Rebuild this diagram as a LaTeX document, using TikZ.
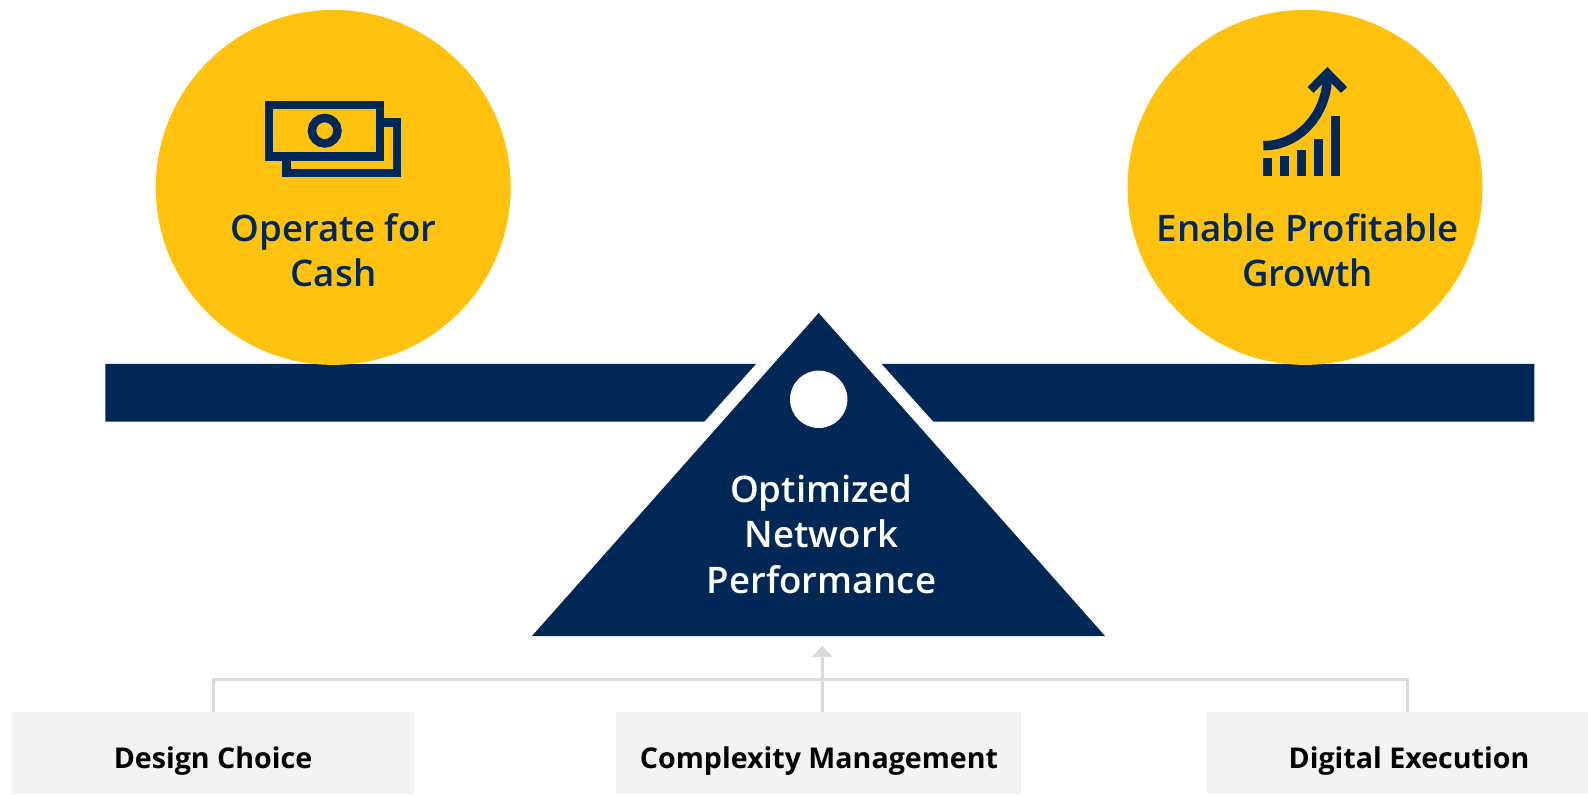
\documentclass[tikz,border=0pt]{standalone}
\usepackage{fontspec}
\setmainfont{Open Sans}[UprightFont=* Semibold,BoldFont=* Bold]
\usetikzlibrary{arrows.meta}
\definecolor{navy}{HTML}{002856}
\definecolor{gold}{HTML}{FFC20E}
\definecolor{linegray}{HTML}{D9D9D9}
\definecolor{boxgray}{HTML}{F3F3F3}
\tikzset{
  px/.style={x=0.5pt,y=-0.5pt},
  navyfill/.style={fill=navy,draw=none},
  goldcircle/.style={circle,fill=gold,draw=none,minimum size=177.5pt,inner sep=0pt},
  iconline/.style={draw=navy,line width=4.2pt,miter limit=10},
  bigtext/.style={text=navy,font=\fontsize{18.3}{22.8}\selectfont,align=center,inner sep=0pt},
  whitetext/.style={text=white,font=\fontsize{18.3}{22.8}\selectfont,align=center,inner sep=0pt},
  labelbox/.style={fill=boxgray,draw=none,anchor=north west,inner sep=0pt},
  labeltext/.style={text=black,font=\fontsize{14.3}{17}\selectfont\bfseries,inner sep=0pt},
  conn/.style={draw=linegray,line width=1.5pt},
}
\begin{document}
\begin{tikzpicture}[px]
\useasboundingbox (0,0) rectangle (1588,795);
\fill[white] (0,0) rectangle (1588,795);
% beam
\fill[navyfill] (105.3,364) -- (756,364) -- (704.3,421.7) -- (105.3,421.7) -- cycle;
\fill[navyfill] (881.7,364) -- (1534.4,364) -- (1534.4,421.7) -- (933.4,421.7) -- cycle;
% circles
\node[goldcircle] (cashc) at (333.2,187.4) {};
\node[goldcircle] (growc) at (1305,187.4) {};
% fulcrum
\fill[navyfill] (818.7,313) -- (1105,636) -- (532,636) -- cycle;
\node[circle,fill=white,draw=none,minimum size=28.7pt,inner sep=0pt] (pivot) at (818.7,399.3) {};
% money icon
\draw[iconline] (286.5,152.5) -- (286.5,173) -- (397,173) -- (397,122.5) -- (384,122.5);
\draw[iconline] (269.2,105.2) rectangle (379.8,156.5);
\draw[navy,line width=4.25pt] (324.7,130.7) circle[radius=12.75];
% growth icon
\foreach \xa/\ytop in {99/309,150/303,201/285,252/252,303/183}{
  \fill[navy] ({1230+\xa/3},{55+\ytop/3}) rectangle ({1230+(\xa+27)/3},{55+362/3});
}
\draw[navy,line width=4.7pt] (1263.3,145.7) .. controls (1300,145.7) and (1327.3,113) .. (1327.3,76);
\draw[iconline] (1310.5,90) -- (1327.3,73) -- (1344,90);
% texts
\node[bigtext] (cash) at (333.5,250) {Operate for\\Cash};
\node[bigtext] (grow) at (1307.5,250) {Enable Profitable\\Growth};
\node[whitetext] (perf) at (821.4,534) {Optimized\\Network\\Performance};
% boxes
\node[labelbox,minimum width=201pt,minimum height=41pt] (b1) at (12,712) {};
\node[labelbox,minimum width=202.5pt,minimum height=41pt] (b2) at (616,712) {};
\node[labelbox,minimum width=190.5pt,minimum height=41pt] (b3) at (1207,712) {};
\node[labeltext] (t1) at (213,761) {Design Choice};
\node[labeltext] (t2) at (819,761) {Complexity Management};
\node[labeltext] (t3) at (1409,761) {Digital Execution};
% connectors
\coordinate (tip) at (822.3,646);
\coordinate (elbowL) at (213.7,679.3);
\coordinate (elbowR) at (1407.8,679.3);
\draw[conn] (elbowL |- b1.north) -- (elbowL) -- (elbowR) -- (elbowR |- b3.north);
\draw[conn,-{Triangle[length=5.4pt,width=10pt]}] (tip |- b2.north) -- (tip);
\end{tikzpicture}
\end{document}
